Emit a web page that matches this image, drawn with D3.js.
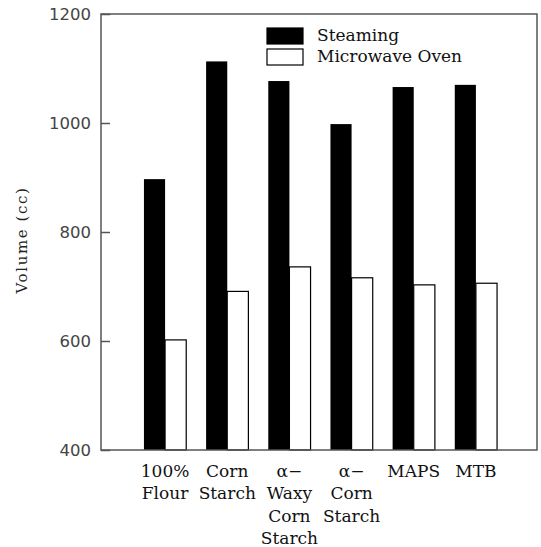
<!DOCTYPE html>
<html>
<head>
<meta charset="utf-8">
<script src="https://cdn.jsdelivr.net/npm/d3@7"></script>
<style>
  body { margin: 0; background: #fff; }
  svg { display: block; }
</style>
</head>
<body>
<div id="chart"></div>
<script>
// categories, each label split into lines
const categories = ["100% Flour", "Corn Starch", "α-Waxy Corn Starch", "α-Corn Starch", "MAPS", "MTB"];
const labelLines = [["100%", "Flour"], ["Corn", "Starch"], ["α\u2212", "Waxy", "Corn", "Starch"], ["α\u2212", "Corn", "Starch"], ["MAPS"], ["MTB"]];
const series = ["Steaming", "Microwave Oven"];
const steaming = [897, 1113, 1077, 998, 1066, 1070];
const microwave = [602, 691, 736, 716, 703, 706];
const yTicks = [400, 600, 800, 1000, 1200];

const width = 541, height = 547;
const plotLeft = 101, plotRight = 537, plotTop = 14, plotBottom = 450;

const svg = d3.select("#chart").append("svg")
    .attr("width", width)
    .attr("height", height);

const y = d3.scaleLinear().domain([400, 1200]).range([plotBottom, plotTop]);
const x = d3.scaleBand().domain(categories).range([134, 507]).paddingInner(0.32).paddingOuter(0.16);
const xs = d3.scaleBand().domain(series).range([0, x.bandwidth()]);

const data = categories.map((c, i) => ({cat: c, values: [steaming[i], microwave[i]]}));

// bars
const group = svg.append("g")
    .selectAll("g")
    .data(data)
    .join("g")
    .attr("transform", d => `translate(${x(d.cat)},0)`);

group.selectAll("rect")
    .data(d => d.values.map((v, j) => ({s: series[j], v: v})))
    .join("rect")
    .attr("x", d => xs(d.s))
    .attr("y", d => y(d.v))
    .attr("width", xs.bandwidth())
    .attr("height", d => y(400) - y(d.v))
    .attr("fill", d => d.s === "Steaming" ? "#000" : "#fff")
    .attr("stroke", "#000")
    .attr("stroke-width", d => d.s === "Steaming" ? 0 : 1.2);

// frame
svg.append("rect")
    .attr("x", plotLeft)
    .attr("y", plotTop)
    .attr("width", plotRight - plotLeft)
    .attr("height", plotBottom - plotTop)
    .attr("fill", "none")
    .attr("stroke", "#555")
    .attr("stroke-width", 1.5);

// y axis, ticks pointing inward
const yAxis = svg.append("g")
    .attr("transform", `translate(${plotLeft},0)`)
    .call(d3.axisLeft(y).tickValues(yTicks).tickSize(-9).tickPadding(10).tickFormat(d3.format("d")));
yAxis.select(".domain").remove();
yAxis.selectAll("line").attr("stroke", "#555").attr("stroke-width", 1.5);
yAxis.selectAll("text")
    .attr("font-family", "DejaVu Sans, sans-serif")
    .attr("font-size", 16.5)
    .attr("fill", "#444");

svg.append("text")
    .attr("transform", "translate(27,240) rotate(-90)")
    .attr("text-anchor", "middle")
    .attr("font-family", "DejaVu Serif, serif")
    .attr("font-size", 15)
    .attr("letter-spacing", 1.6)
    .attr("fill", "#222")
    .text("Volume (cc)");

// x labels
const xl = svg.append("g")
    .selectAll("text")
    .data(categories)
    .join("text")
    .attr("x", d => x(d) + x.bandwidth() / 2)
    .attr("y", 477)
    .attr("text-anchor", "middle")
    .attr("font-family", "DejaVu Serif, serif")
    .attr("font-size", 17)
    .attr("fill", "#111");
xl.selectAll("tspan")
    .data((d, i) => labelLines[i])
    .join("tspan")
    .attr("x", function () { return this.parentNode.getAttribute("x"); })
    .attr("dy", (d, i) => i === 0 ? 0 : 22.3)
    .text(d => d);

// legend
const legend = svg.append("g")
    .attr("transform", "translate(267,28)")
    .selectAll("g")
    .data(series)
    .join("g")
    .attr("transform", (d, i) => `translate(0,${i * 21})`);
legend.append("rect")
    .attr("width", 36)
    .attr("height", 16)
    .attr("fill", (d, i) => i === 0 ? "#000" : "#fff")
    .attr("stroke", "#000")
    .attr("stroke-width", 1.2);
legend.append("text")
    .attr("x", 50)
    .attr("y", 13)
    .attr("font-family", "DejaVu Serif, serif")
    .attr("font-size", 17)
    .attr("fill", "#111")
    .text(d => d);
</script>
</body>
</html>
